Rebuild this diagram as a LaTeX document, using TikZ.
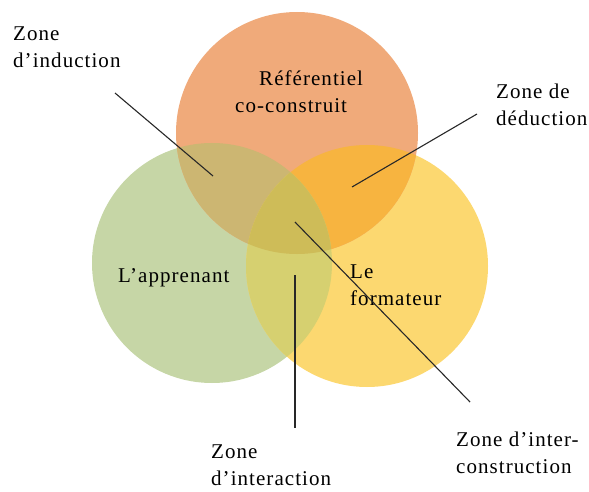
\documentclass[tikz,border=0pt]{standalone}
\usepackage{fontspec}
\setmainfont{Liberation Serif}[LetterSpace=5]
\definecolor{ctop}{RGB}{240,170,122}
\definecolor{cleft}{RGB}{198,214,166}
\definecolor{cright}{RGB}{252,216,112}
\definecolor{ctl}{RGB}{204,182,114}
\definecolor{ctr}{RGB}{247,180,64}
\definecolor{clr}{RGB}{214,208,112}
\definecolor{call}{RGB}{206,188,88}
\definecolor{cline}{RGB}{40,40,40}
\tikzset{
  lbl/.style={anchor=north west, inner sep=0pt, align=left, font=\fontsize{21}{27}\selectfont, text=black},
  lead/.style={draw=cline, line width=1.1pt},
}
\begin{document}
\begin{tikzpicture}[x=1pt,y=-1pt]
\useasboundingbox (0,0) rectangle (589,492);
\def\TopC{(297,133) circle (121)}
\def\LeftC{(212,263) circle (120)}
\def\RightC{(367,266) circle (121)}
% base circles
\fill[cleft] \LeftC;
\fill[cright] \RightC;
\fill[ctop] \TopC;
% pairwise overlaps
\begin{scope}\clip \TopC; \fill[ctl] \LeftC; \end{scope}
\begin{scope}\clip \TopC; \fill[ctr] \RightC; \end{scope}
\begin{scope}\clip \LeftC; \fill[clr] \RightC; \end{scope}
\begin{scope}\clip \TopC; \clip \LeftC; \fill[call] \RightC; \end{scope}
% labels
\node[lbl] (induc) at (13,27) {Zone\\d'induction};
\node[lbl] (ref) at (235,71) {\hspace*{24pt}Référentiel\\co-construit};
\node[lbl] (deduc) at (496,84) {Zone de\\déduction};
\node[lbl] (appr) at (118,268) {L'apprenant};
\node[lbl] (form) at (350,265) {Le\\formateur};
\node[lbl] (inter) at (211,445) {Zone\\d'interaction};
\node[lbl] (intercons) at (456,432) {Zone d'inter-\\construction};
% leader coordinates
\coordinate (i1) at (115,93);
\coordinate (i2) at (213,176);
\coordinate (d1) at (477,114);
\coordinate (d2) at (352,187);
\coordinate (c1) at (295,222);
\coordinate (c2) at (470,402);
\coordinate (n1) at (295,275);
\coordinate (n2) at (295,428);
\draw[lead] (i1) -- (i2);
\draw[lead] (d1) -- (d2);
\draw[lead] (c1) -- (c2);
\draw[lead] (n1) -- (n2);
\end{tikzpicture}
\end{document}
